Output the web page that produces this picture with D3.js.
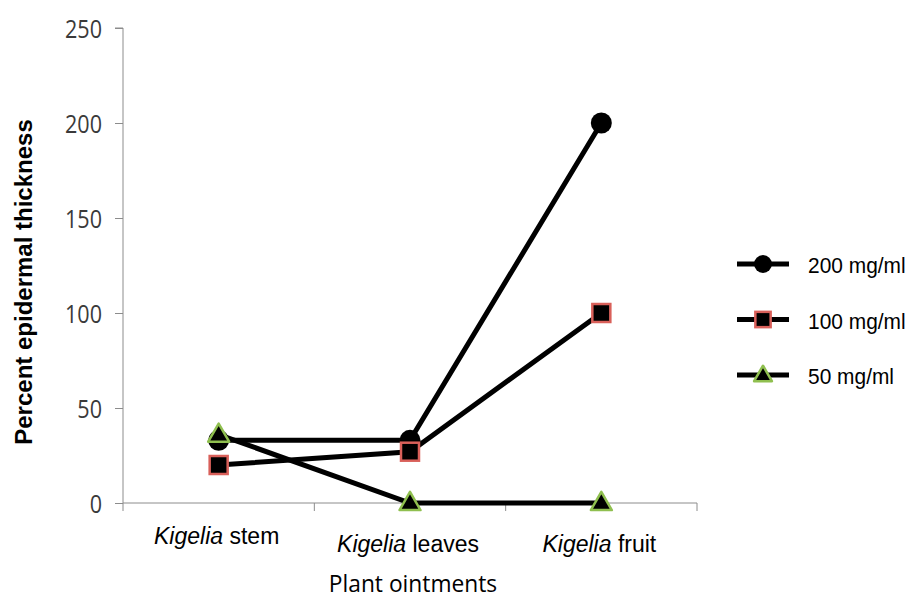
<!DOCTYPE html>
<html><head><meta charset="utf-8">
<script src="https://cdn.jsdelivr.net/npm/d3@7"></script>
<style>body{margin:0;background:#fff}</style>
</head><body>
<svg id="c" width="909" height="598"></svg>
<script>
const categories = ["stem", "leaves", "fruit"];
const genus = "Kigelia";
const seriesNames = ["200 mg/ml", "100 mg/ml", "50 mg/ml"];
const s200 = [33, 33, 200];
const s100 = [20, 27, 100];
const s50 = [36, 0, 0];
const yTicks = [0, 50, 100, 150, 200, 250];

const svg = d3.select("#c");
const x0 = 123, x1 = 697, yTop = 28, yBot = 503;
const x = d3.scaleBand().domain(categories).range([x0, x1]);
const y = d3.scaleLinear().domain([0, 250]).range([yBot, yTop]);

// y axis
const ya = svg.append("g").attr("transform", `translate(${x0},0)`)
  .call(d3.axisLeft(y).tickValues(yTicks).tickSize(8).tickPadding(0));
ya.select(".domain").attr("stroke", "#8c8c8c").attr("d", `M-8,${yTop}H0V${yBot}`);
ya.selectAll(".tick line").attr("stroke", "#8c8c8c");
ya.selectAll("text").attr("x", 0).attr("dy", "0.36em")
  .attr("transform", "translate(-21,0) scale(0.83,1)")
  .attr("font-family", "Open Sans, sans-serif").attr("font-size", 26).attr("fill", "#3a3a3a");

// x axis
const xa = svg.append("g").attr("transform", `translate(0,${yBot})`)
  .call(d3.axisBottom(x).tickSize(0).tickFormat(""));
xa.select(".domain").attr("stroke", "#8c8c8c").attr("d", `M${x0},0H${x1}`);
const bounds = [x0].concat(categories.map(c => x(c) + x.bandwidth()));
xa.selectAll(".bt").data(bounds).enter().append("line")
  .attr("x1", d => d).attr("x2", d => d).attr("y1", 0).attr("y2", 8).attr("stroke", "#8c8c8c");

const lblBase = [544, 552, 552];
const lbl = svg.append("g");
categories.forEach((c, i) => {
  const t = lbl.append("text")
    .attr("transform", `translate(${x(c) + x.bandwidth() / 2 - 2},${lblBase[i]}) scale(1.0,1)`)
    .attr("text-anchor", "middle").attr("font-family", "Liberation Sans, Arial, sans-serif")
    .attr("font-size", 23).attr("fill", "#000");
  t.append("tspan").attr("font-style", "italic").text(genus);
  t.append("tspan").text(" " + c);
});

svg.append("text").attr("transform", "translate(413,592) scale(0.93,1)").attr("text-anchor", "middle")
  .attr("font-family", "Open Sans, sans-serif").attr("font-size", 24.5).attr("fill", "#000")
  .text("Plant ointments");

svg.append("text").attr("transform", "translate(32,282) rotate(-90)").attr("text-anchor", "middle")
  .attr("font-family", "Liberation Sans, Arial, sans-serif").attr("font-weight", "bold")
  .attr("font-size", 24).attr("fill", "#000").text("Percent epidermal thickness");

const series = [
  {name: seriesNames[0], values: s200, marker: "circle"},
  {name: seriesNames[1], values: s100, marker: "square"},
  {name: seriesNames[2], values: s50, marker: "triangle"}
];
const cx = c => x(c) + x.bandwidth() / 2;
const line = d3.line().x((d, i) => cx(categories[i])).y(d => y(d));

function marker(g, type, px, py, k) {
  if (type === "circle") g.append("circle").attr("cx", px).attr("cy", py).attr("r", 10.5 * k).attr("fill", "#000");
  else if (type === "square") g.append("rect").attr("x", px - 9 * k).attr("y", py - 9 * k).attr("width", 18 * k).attr("height", 18 * k)
    .attr("fill", "#000").attr("stroke", "#d9605a").attr("stroke-width", 2.5);
  else g.append("path").attr("d", d3.symbol(d3.symbolTriangle, 190 * k * k)()).attr("transform", `translate(${px},${py+1})`)
    .attr("fill", "#000").attr("stroke", "#8fbf4f").attr("stroke-width", 2.5).attr("stroke-linejoin", "round");
}

series.forEach(s => {
  svg.append("path").datum(s.values).attr("d", line).attr("fill", "none")
    .attr("stroke", "#000").attr("stroke-width", 5);
});
series.forEach(s => {
  const g = svg.append("g");
  s.values.forEach((v, i) => marker(g, s.marker, cx(categories[i]), y(v), 1));
});

// legend
const ly = d3.scalePoint().domain(seriesNames).range([264, 375]);
series.forEach(s => {
  const yy = ly(s.name);
  svg.append("line").attr("x1", 737).attr("x2", 789).attr("y1", yy).attr("y2", yy)
    .attr("stroke", "#000").attr("stroke-width", 5);
  marker(svg.append("g"), s.marker, 763, yy, 0.85);
  svg.append("text").attr("transform", `translate(808,${yy + 9}) scale(0.93,1)`)
    .attr("font-family", "Liberation Sans, Arial, sans-serif")
    .attr("font-size", 22.5).attr("fill", "#000").text(s.name);
});
</script>
</body></html>
